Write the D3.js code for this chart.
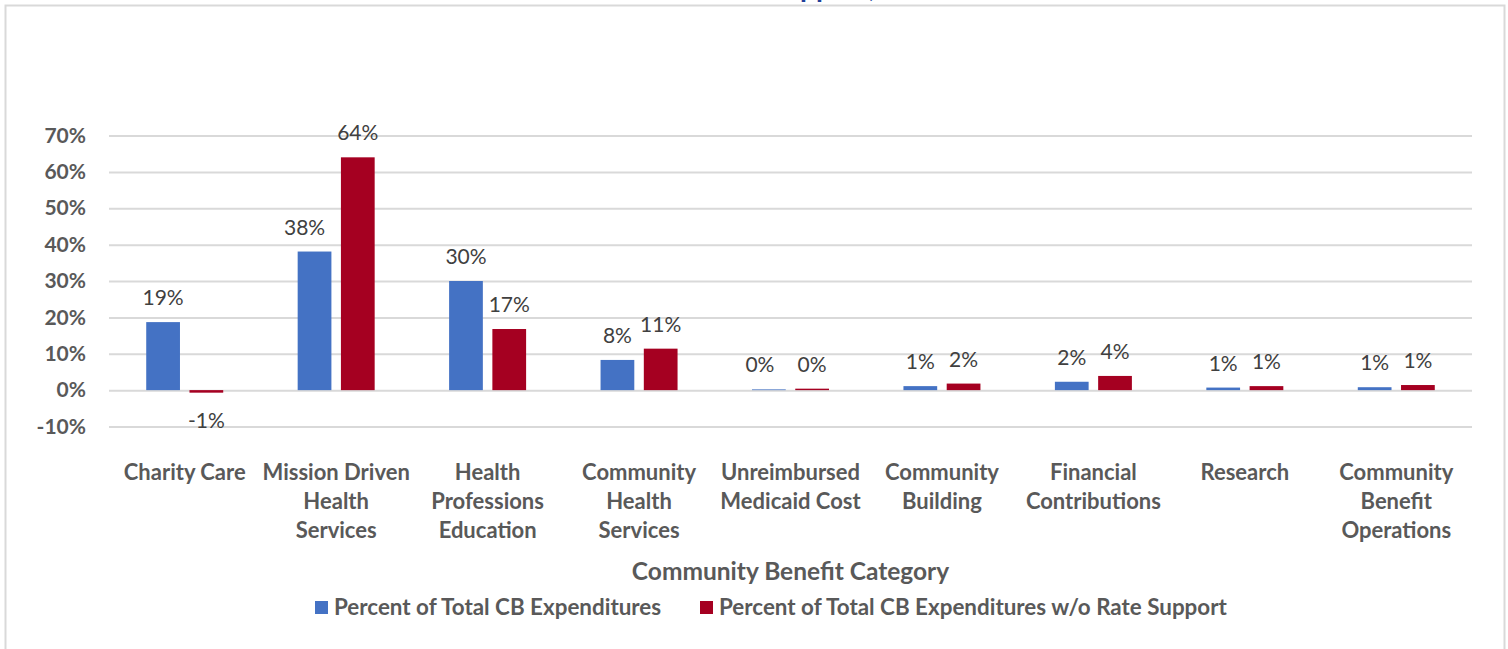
<!DOCTYPE html>
<html>
<head>
<meta charset="utf-8">
<script src="https://cdn.jsdelivr.net/npm/d3@7"></script>
<style>
  html, body { margin: 0; padding: 0; background: #fff; }
  svg { display: block; }
  text { font-family: Lato, "Noto Sans", sans-serif; }
</style>
</head>
<body>
<svg id="chart" width="1508" height="649"></svg>
<script>
// Community benefit categories, each split into its wrapped label lines
const categories = [
  "Charity Care",
  "Mission Driven Health Services",
  "Health Professions Education",
  "Community Health Services",
  "Unreimbursed Medicaid Cost",
  "Community Building",
  "Financial Contributions",
  "Research",
  "Community Benefit Operations"
];
const categoryLines = [
  ["Charity Care"],
  ["Mission Driven", "Health", "Services"],
  ["Health", "Professions", "Education"],
  ["Community", "Health", "Services"],
  ["Unreimbursed", "Medicaid Cost"],
  ["Community", "Building"],
  ["Financial", "Contributions"],
  ["Research"],
  ["Community", "Benefit", "Operations"]
];

// Share of total CB expenditures (percent)
const pctTotal     = [18.7, 38.1, 30.0, 8.3, 0.2, 1.1, 2.3, 0.7, 0.8];
// Share of total CB expenditures without rate support (percent)
const pctNoRate    = [-0.7, 64.0, 16.8, 11.4, 0.4, 1.8, 3.9, 1.1, 1.4];

const seriesNames  = ["Percent of Total CB Expenditures", "Percent of Total CB Expenditures w/o Rate Support"];
const seriesColors = ["#4472C4", "#A50021"];
const yTicks       = [-10, 0, 10, 20, 30, 40, 50, 60, 70];

const titleLine  = "With and Without Rate Support, FY 2021";
const xAxisTitle = "Community Benefit Category";

// Hand-nudged horizontal label offsets (px) for the first series
const labelNudge = { "1-0": -10, "4-0": -9 };

const svg = d3.select("#chart");

// Chart area border
svg.append("rect")
  .attr("x", 5.5).attr("y", 5.5)
  .attr("width", 1499).attr("height", 700)
  .attr("fill", "none")
  .attr("stroke", "#D9D9D9").attr("stroke-width", 2);

const plot = { left: 109, right: 1472, top: 135.5, bottom: 426.5 };

const x0 = d3.scaleBand().domain(categories).range([plot.left, plot.right]).padding(0);
const groupW = 77;
const x1 = d3.scaleBand().domain([0, 1]).range([0, groupW]).paddingInner(0.22);
const y = d3.scaleLinear().domain([-10, 70]).range([plot.bottom, plot.top]);

// Gridlines
const grid = svg.append("g")
  .attr("transform", `translate(${plot.left},0)`)
  .call(d3.axisLeft(y).tickValues(yTicks).tickSize(-(plot.right - plot.left)).tickFormat(""));
grid.select(".domain").remove();
grid.selectAll(".tick line").attr("stroke", "#D9D9D9").attr("stroke-width", 2);

// Y tick labels
const yAxis = svg.append("g")
  .attr("transform", `translate(${plot.left},0)`)
  .call(d3.axisLeft(y).tickValues(yTicks).tickSize(0).tickPadding(23).tickFormat(d => d + "%"));
yAxis.select(".domain").remove();
yAxis.selectAll("text")
  .attr("fill", "#595959")
  .style("font-size", "21px")
  .style("font-weight", "bold")
  .style("font-family", "Lato, sans-serif");

// Bars
const series = [pctTotal, pctNoRate];
const groups = svg.append("g").selectAll("g")
  .data(categories)
  .join("g")
  .attr("transform", d => `translate(${x0(d) + (x0.bandwidth() - groupW) / 2},0)`);

groups.selectAll("rect")
  .data((d, i) => series.map((s, k) => ({ i, k, v: s[i] })))
  .join("rect")
  .attr("x", d => x1(d.k))
  .attr("width", x1.bandwidth())
  .attr("y", d => y(Math.max(0, d.v)))
  .attr("height", d => Math.abs(y(d.v) - y(0)))
  .attr("fill", d => seriesColors[d.k]);

// Data labels (rounded to whole percent, hyphen for negatives)
groups.selectAll("text.val")
  .data((d, i) => series.map((s, k) => ({ i, k, v: s[i] })))
  .join("text")
  .attr("class", "val")
  .attr("x", d => x1(d.k) + x1.bandwidth() / 2 + (labelNudge[`${d.i}-${d.k}`] || 0))
  .attr("y", d => d.v >= 0 ? y(d.v) - 17 : y(d.v) + 35)
  .attr("text-anchor", "middle")
  .attr("fill", "#404040")
  .style("font-size", "21px")
  .text(d => String(Math.round(d.v)) + "%");

// Category labels
const xAxis = svg.append("g")
  .attr("transform", `translate(0,${y(0)})`)
  .call(d3.axisBottom(x0).tickSize(0).tickFormat(""));
xAxis.select(".domain").remove();
xAxis.selectAll(".tick text").remove();
xAxis.selectAll(".tick").each(function (d, i) {
  const t = d3.select(this).append("text")
    .attr("text-anchor", "middle")
    .attr("fill", "#595959")
    .style("font-size", "22px")
    .style("font-weight", "bold");
  categoryLines[i].forEach((line, j) => {
    t.append("tspan").attr("x", 0).attr("y", 90 + j * 29).text(line);
  });
});

// Axis title
svg.append("text")
  .attr("x", (plot.left + plot.right) / 2)
  .attr("y", 580)
  .attr("text-anchor", "middle")
  .attr("fill", "#595959")
  .style("font-size", "24.5px")
  .style("font-weight", "bold")
  .text(xAxisTitle);

// Legend
const legend = svg.append("g");
const legendItems = [{ x: 315, i: 0 }, { x: 700, i: 1 }];
legendItems.forEach(({ x, i }) => {
  legend.append("rect")
    .attr("x", x).attr("y", 601)
    .attr("width", 13).attr("height", 13)
    .attr("fill", seriesColors[i]);
  legend.append("text")
    .attr("x", x + 19).attr("y", 615)
    .attr("fill", "#595959")
    .style("font-size", "22.4px")
    .style("font-weight", "bold")
    .text(seriesNames[i]);
});

// Chart title, positioned above the chart area
const title = svg.append("text")
  .attr("y", -3)
  .attr("fill", "#1F3F99")
  .style("font-size", "28px")
  .style("font-weight", "bold")
  .text(titleLine);
const prefix = svg.append("text")
  .style("font-size", "28px").style("font-weight", "bold")
  .text("With and Without Rate Su");
const prefixW = prefix.node().getComputedTextLength();
prefix.remove();
title.attr("x", 800 - prefixW);
</script>
</body>
</html>
